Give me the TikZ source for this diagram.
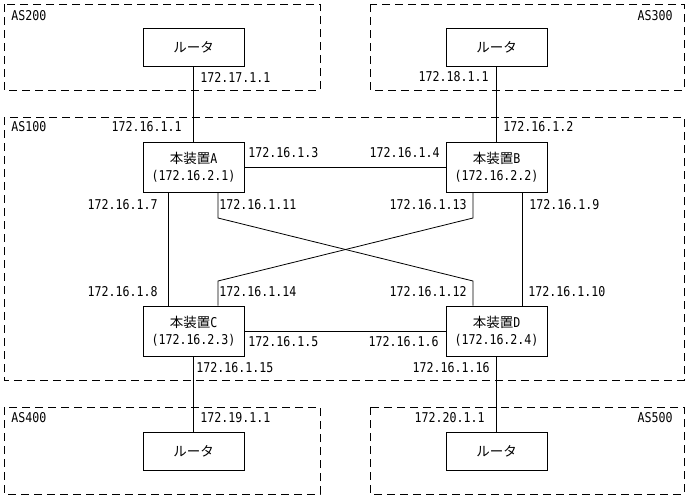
\documentclass[tikz,border=0pt]{standalone}
\usepackage{fontspec}
\setmainfont[FakeStretch=0.86]{DejaVu Sans Mono}
\newfontfamily\jp{Noto Sans CJK JP}
\begin{document}
\begin{tikzpicture}[x=1pt,y=-1pt,
  font=\fontsize{13.5}{17}\selectfont,
  line width=0.8pt,
  asbox/.style={draw, dash pattern=on 8pt off 5pt},
  router/.style={draw, minimum width=101pt, minimum height=38pt, inner sep=0pt},
  device/.style={draw, minimum width=101pt, minimum height=50pt, inner sep=0pt, align=center},
  lw/.style={anchor=west, inner sep=0pt},
  le/.style={anchor=east, inner sep=0pt}]
\useasboundingbox (0,0) rectangle (688,499);
\fill[white] (0,0) rectangle (688,499);
% AS areas
\draw[asbox] (4,4) rectangle (320,90);
\draw[asbox] (370,4) rectangle (684,90);
\draw[asbox] (4,117) rectangle (684,380);
\draw[asbox] (4,407) rectangle (320,494);
\draw[asbox] (370,407) rectangle (684,494);
% nodes
\node[router] (r200) at (193.5,47) {\jp ルータ};
\node[router] (r300) at (496.5,47) {\jp ルータ};
\node[router] (r400) at (193.5,451) {\jp ルータ};
\node[router] (r500) at (496.5,451) {\jp ルータ};
\node[device] (A) at (193.5,167) {{\jp 本装置}A\\(172.16.2.1)};
\node[device] (B) at (496.5,167) {{\jp 本装置}B\\(172.16.2.2)};
\node[device] (C) at (193.5,331) {{\jp 本装置}C\\(172.16.2.3)};
\node[device] (D) at (496.5,331) {{\jp 本装置}D\\(172.16.2.4)};
% helper coordinates
\coordinate (xa1) at (168,0);
\coordinate (xa2) at (218,0);
\coordinate (xb1) at (473,0);
\coordinate (xb2) at (522,0);
\coordinate (yu) at (0,218);
\coordinate (yl) at (0,281);
% connectors
\draw (r200) -- (A);
\draw (r300) -- (B);
\draw (C) -- (r400);
\draw (D) -- (r500);
\draw (A) -- (B);
\draw (C) -- (D);
\draw (A.south -| xa1) -- (C.north -| xa1);
\draw (B.south -| xb2) -- (D.north -| xb2);
\draw (A.south -| xa2) -- (xa2 |- yu) -- (xb1 |- yl) -- (D.north -| xb1);
\draw (B.south -| xb1) -- (xb1 |- yu) -- (xa2 |- yl) -- (C.north -| xa2);
% AS labels
\node[lw] (as200) at (11,16) {AS200};
\node[le] (as300) at (673,16) {AS300};
\node[lw] (as100) at (11,127) {AS100};
\node[lw] (as400) at (11,418) {AS400};
\node[le] (as500) at (673,418) {AS500};
% address labels
\node[lw] (l1) at (200,77) {172.17.1.1};
\node[le] (l2) at (489,77) {172.18.1.1};
\node[le] (l3) at (182,127) {172.16.1.1};
\node[lw] (l4) at (503,127) {172.16.1.2};
\node[lw] (l5) at (248,153) {172.16.1.3};
\node[le] (l6) at (440,153) {172.16.1.4};
\node[le] (l7) at (158,205) {172.16.1.7};
\node[lw] (l8) at (219,205) {172.16.1.11};
\node[le] (l9) at (467,205) {172.16.1.13};
\node[lw] (l10) at (529,205) {172.16.1.9};
\node[le] (l11) at (158,292) {172.16.1.8};
\node[lw] (l12) at (219,292) {172.16.1.14};
\node[le] (l13) at (467,292) {172.16.1.12};
\node[lw] (l14) at (528,292) {172.16.1.10};
\node[lw] (l15) at (248,342) {172.16.1.5};
\node[le] (l16) at (439,342) {172.16.1.6};
\node[lw] (l17) at (196,368) {172.16.1.15};
\node[le] (l18) at (490,368) {172.16.1.16};
\node[lw] (l19) at (200,418) {172.19.1.1};
\node[le] (l20) at (485,418) {172.20.1.1};
\end{tikzpicture}
\end{document}
